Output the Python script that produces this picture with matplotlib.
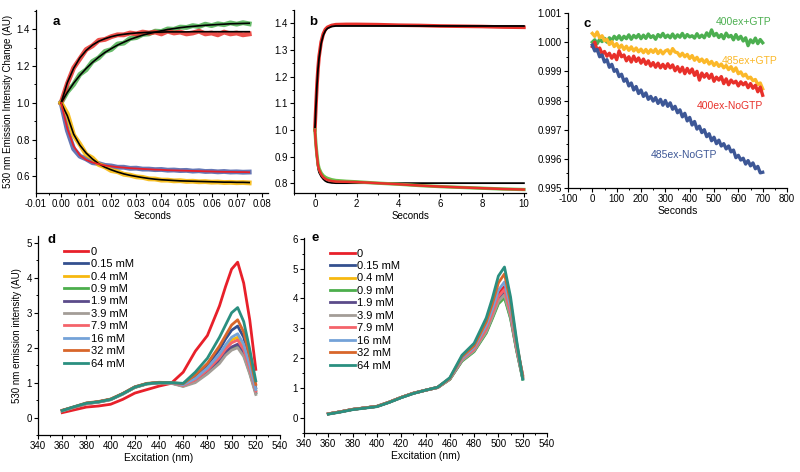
import numpy as np
import matplotlib
matplotlib.use('Agg')
import matplotlib.pyplot as plt
from matplotlib.ticker import MultipleLocator, FormatStrFormatter

plt.rcParams['font.family'] = ['Liberation Sans', 'DejaVu Sans']
plt.rcParams['axes.unicode_minus'] = False

# ---------------- panel a: fast kinetics (seconds) ----------------
t_a = [0.0, 0.0025, 0.005, 0.0075, 0.01, 0.0125, 0.015, 0.0175, 0.02, 0.0225,
       0.025, 0.0275, 0.03, 0.0325, 0.035, 0.0375, 0.04, 0.0425, 0.045, 0.0475,
       0.05, 0.0525, 0.055, 0.0575, 0.06, 0.0625, 0.065, 0.0675, 0.07, 0.0725, 0.075]
a_red_data = [1.00, 1.105, 1.19, 1.24, 1.29, 1.31, 1.34, 1.345, 1.36, 1.37, 1.37, 1.38,
              1.375, 1.385, 1.38, 1.385, 1.375, 1.39, 1.38, 1.385, 1.375, 1.38, 1.39,
              1.375, 1.38, 1.37, 1.385, 1.375, 1.38, 1.37, 1.375]
a_red_fit = [1.000, 1.110, 1.188, 1.245, 1.285, 1.314, 1.335, 1.349, 1.360, 1.368, 1.373,
             1.377, 1.380, 1.382, 1.384, 1.384, 1.385, 1.386, 1.386, 1.386, 1.386, 1.387,
             1.387, 1.387, 1.387, 1.387, 1.387, 1.387, 1.387, 1.387, 1.387]
a_green_data = [1.00, 1.06, 1.10, 1.155, 1.18, 1.225, 1.245, 1.28, 1.29, 1.32, 1.325, 1.35,
                1.355, 1.372, 1.375, 1.39, 1.388, 1.402, 1.40, 1.412, 1.41, 1.42, 1.415,
                1.428, 1.42, 1.43, 1.425, 1.435, 1.428, 1.436, 1.43]
a_green_fit = [1.000, 1.057, 1.107, 1.150, 1.187, 1.220, 1.249, 1.274, 1.295, 1.314, 1.330,
               1.345, 1.357, 1.368, 1.377, 1.385, 1.392, 1.399, 1.404, 1.409, 1.413, 1.416,
               1.419, 1.422, 1.424, 1.426, 1.428, 1.430, 1.431, 1.432, 1.433]
a_blue_data = [1.00, 0.85, 0.75, 0.71, 0.695, 0.675, 0.67, 0.66, 0.657, 0.65, 0.65, 0.644,
               0.645, 0.64, 0.64, 0.637, 0.638, 0.634, 0.635, 0.632, 0.633, 0.629, 0.631,
               0.627, 0.628, 0.625, 0.627, 0.624, 0.625, 0.623, 0.624]
a_blue_fit = [1.00, 0.86, 0.765, 0.715, 0.69, 0.676, 0.667, 0.660, 0.655, 0.651, 0.648,
              0.645, 0.643, 0.641, 0.639, 0.637, 0.636, 0.634, 0.633, 0.632, 0.631, 0.630,
              0.629, 0.628, 0.627, 0.626, 0.625, 0.625, 0.624, 0.624, 0.623]
a_yellow_data = [1.00, 0.94, 0.825, 0.775, 0.72, 0.70, 0.665, 0.652, 0.632, 0.626, 0.612,
                 0.607, 0.598, 0.595, 0.587, 0.586, 0.580, 0.580, 0.576, 0.577, 0.573,
                 0.574, 0.571, 0.572, 0.569, 0.570, 0.567, 0.568, 0.566, 0.567, 0.565]
a_yellow_fit = [1.0, 0.93, 0.83, 0.77, 0.727, 0.695, 0.669, 0.650, 0.636, 0.624, 0.614,
                0.606, 0.600, 0.594, 0.589, 0.585, 0.582, 0.580, 0.578, 0.576, 0.575,
                0.574, 0.573, 0.572, 0.571, 0.570, 0.569, 0.569, 0.568, 0.568, 0.567]

# ---------------- panel b: slow kinetics ----------------
t_b = [0, 0.05, 0.1, 0.15, 0.2, 0.3, 0.4, 0.5, 0.6, 0.8, 1.0, 1.5, 2, 3, 4, 5, 6, 7, 8, 9, 10]
b_rise_data = [1.00, 1.09, 1.17, 1.23, 1.275, 1.33, 1.36, 1.377, 1.385, 1.392, 1.395, 1.396,
               1.396, 1.395, 1.393, 1.392, 1.390, 1.389, 1.388, 1.386, 1.385]
b_rise_fit = [1.00, 1.09, 1.17, 1.23, 1.27, 1.325, 1.355, 1.372, 1.381, 1.388, 1.390, 1.390,
              1.390, 1.390, 1.390, 1.390, 1.390, 1.390, 1.390, 1.390, 1.390]
b_fall_green = [1.00, 0.945, 0.905, 0.872, 0.855, 0.838, 0.828, 0.822, 0.818, 0.813, 0.810,
                0.807, 0.805, 0.800, 0.796, 0.791, 0.787, 0.784, 0.781, 0.778, 0.776]
b_fall_red = [1.00, 0.94, 0.90, 0.865, 0.85, 0.833, 0.822, 0.816, 0.812, 0.808, 0.806,
              0.805, 0.804, 0.800, 0.796, 0.791, 0.787, 0.784, 0.781, 0.778, 0.776]
b_fall_fit = [1.00, 0.935, 0.89, 0.855, 0.84, 0.825, 0.815, 0.808, 0.804, 0.801, 0.800,
              0.800, 0.800, 0.800, 0.800, 0.800, 0.800, 0.800, 0.800, 0.800, 0.800]

# ---------------- panel c: drift, deviation from 1 in units of 1e-4 ----------------
t_c = list(range(0, 701, 10))
c_green_dev = [0.0, 0.8, -0.5, 1.0, 0.2, 1.3, 0.0, 1.5, 0.6, 2.0, 1.0, 2.2, 0.8, 2.0, 1.2,
               2.5, 1.0, 2.3, 1.5, 2.6, 1.2, 2.4, 1.3, 2.8, 1.6, 2.2, 1.0, 2.6, 1.8, 3.0,
               1.6, 2.4, 1.5, 2.8, 1.4, 2.5, 1.7, 3.0, 1.5, 2.6, 1.8, 2.2, 1.4, 2.9, 1.6,
               2.4, 1.5, 3.2, 2.0, 4.2, 2.2, 3.0, 1.6, 2.6, 1.2, 3.1, 1.8, 2.3, 0.8, 2.6,
               1.0, 2.0, 0.4, 1.5, -1.2, 0.8, -0.2, 1.4, -0.5, 0.9, -0.2]
c_yellow_dev = [3.0, 2.0, 3.5, 1.5, 2.2, 0.5, 1.0, -0.8, 0.2, -1.5, -0.5, -2.0, -1.0, -2.5,
                -1.4, -2.8, -1.6, -3.0, -2.0, -3.3, -2.4, -3.6, -2.5, -3.8, -2.6, -3.5,
                -2.4, -3.9, -2.8, -4.0, -3.0, -2.6, -4.0, -2.2, -3.4, -3.6, -4.8, -3.8,
                -5.0, -4.2, -5.6, -4.6, -6.2, -5.2, -6.6, -5.8, -7.0, -6.0, -7.5, -6.6,
                -8.0, -7.0, -8.3, -7.5, -8.8, -8.0, -9.4, -8.4, -10.0, -8.8, -10.8,
                -10.2, -11.6, -11.0, -12.4, -12.0, -13.2, -12.8, -14.5, -14.0, -16.0]
c_red_dev = [-1.5, 0.0, -3.0, -2.0, -4.0, -3.2, -4.8, -3.8, -5.5, -4.2, -6.0, -3.0, -5.0,
             -4.4, -6.4, -5.0, -6.8, -4.8, -6.6, -5.4, -7.2, -5.8, -7.6, -6.4, -8.2, -7.0,
             -8.6, -7.2, -8.8, -7.6, -9.0, -7.4, -8.8, -7.8, -9.8, -8.4, -10.2, -8.6,
             -10.8, -9.0, -10.6, -9.2, -11.4, -10.0, -13.0, -10.6, -12.0, -10.8, -12.4,
             -11.0, -13.4, -12.0, -13.0, -11.8, -14.2, -12.6, -14.6, -13.0, -14.0, -13.4,
             -15.0, -13.6, -14.6, -13.8, -15.6, -14.2, -15.8, -14.8, -17.0, -15.4, -18.2]
c_blue_dev = [-1.0, -3.0, -2.5, -5.0, -4.4, -6.8, -6.0, -8.6, -7.6, -10.0, -9.4, -11.8,
              -11.0, -13.4, -12.6, -15.0, -14.0, -16.4, -15.2, -17.6, -16.4, -18.6, -17.4,
              -19.6, -18.6, -20.2, -19.0, -21.0, -19.6, -21.6, -20.0, -22.0, -20.8, -23.0,
              -22.0, -24.2, -23.2, -25.6, -24.4, -27.0, -25.8, -28.4, -27.2, -29.8, -28.8,
              -31.0, -30.0, -32.4, -31.4, -33.8, -32.6, -34.8, -33.6, -35.6, -34.8, -36.6,
              -35.6, -37.6, -37.0, -39.6, -38.8, -40.4, -39.8, -41.8, -40.6, -42.4, -41.4,
              -43.4, -42.6, -44.8, -44.6]

# ---------------- panels d / e: excitation spectra ----------------
wl = [360, 370, 380, 390, 400, 410, 420, 430, 440, 450,
      460, 470, 480, 490, 495, 500, 505, 510, 515, 520]
conc_labels = ['0', '0.15 mM', '0.4 mM', '0.9 mM', '1.9 mM', '3.9 mM',
               '7.9 mM', '16 mM', '32 mM', '64 mM']
conc_colors = ['#e8202a', '#34508f', '#f7b80f', '#4cae4c', '#5b4b8a', '#a39d97',
               '#f4636a', '#74a2d8', '#d8662a', '#2a8f80']

d_spectra = [
    [0.14, 0.22, 0.30, 0.33, 0.38, 0.52, 0.70, 0.80, 0.90, 0.98, 1.30, 1.90, 2.35, 3.20, 3.75, 4.25, 4.45, 3.85, 2.80, 1.38],
    [0.20, 0.30, 0.41, 0.45, 0.52, 0.68, 0.87, 0.97, 1.00, 1.00, 0.95, 1.18, 1.50, 1.95, 2.25, 2.50, 2.62, 2.30, 1.65, 0.85],
    [0.20, 0.30, 0.40, 0.45, 0.52, 0.68, 0.87, 0.97, 1.00, 1.00, 0.93, 1.10, 1.40, 1.78, 2.02, 2.22, 2.30, 2.02, 1.45, 0.78],
    [0.19, 0.30, 0.40, 0.44, 0.51, 0.67, 0.86, 0.96, 0.99, 0.99, 0.90, 1.03, 1.28, 1.60, 1.83, 1.98, 2.05, 1.80, 1.28, 0.70],
    [0.20, 0.30, 0.40, 0.45, 0.52, 0.68, 0.87, 0.97, 1.00, 0.99, 0.91, 1.05, 1.32, 1.65, 1.88, 2.02, 2.10, 1.85, 1.32, 0.72],
    [0.19, 0.29, 0.39, 0.44, 0.51, 0.67, 0.86, 0.96, 0.99, 0.98, 0.89, 1.00, 1.25, 1.55, 1.78, 1.93, 2.00, 1.75, 1.25, 0.66],
    [0.20, 0.30, 0.40, 0.45, 0.52, 0.68, 0.87, 0.97, 1.00, 1.00, 0.92, 1.08, 1.36, 1.72, 1.96, 2.14, 2.22, 1.95, 1.40, 0.76],
    [0.20, 0.31, 0.41, 0.45, 0.52, 0.68, 0.88, 0.97, 1.00, 1.00, 0.94, 1.12, 1.42, 1.82, 2.08, 2.30, 2.40, 2.10, 1.50, 0.80],
    [0.21, 0.31, 0.42, 0.46, 0.53, 0.69, 0.88, 0.98, 1.01, 1.00, 0.97, 1.22, 1.55, 2.05, 2.35, 2.65, 2.80, 2.45, 1.75, 0.95],
    [0.20, 0.31, 0.41, 0.45, 0.52, 0.68, 0.87, 0.97, 1.00, 1.00, 0.98, 1.30, 1.70, 2.30, 2.65, 3.00, 3.15, 2.75, 1.95, 1.05],
]

e_spectra = [
    [0.14, 0.21, 0.29, 0.34, 0.39, 0.53, 0.69, 0.83, 0.93, 1.03, 1.32, 1.98, 2.33, 3.03, 3.56, 4.15, 4.40, 3.60, 2.40, 1.45],
    [0.14, 0.21, 0.29, 0.34, 0.39, 0.53, 0.69, 0.83, 0.93, 1.02, 1.30, 1.92, 2.24, 2.87, 3.36, 3.87, 4.08, 3.36, 2.27, 1.32],
    [0.14, 0.21, 0.29, 0.34, 0.39, 0.53, 0.69, 0.83, 0.93, 1.02, 1.30, 1.94, 2.27, 2.92, 3.42, 3.95, 4.18, 3.43, 2.31, 1.36],
    [0.14, 0.21, 0.29, 0.34, 0.39, 0.53, 0.69, 0.83, 0.93, 1.02, 1.29, 1.90, 2.22, 2.84, 3.32, 3.82, 4.02, 3.32, 2.25, 1.30],
    [0.14, 0.21, 0.29, 0.34, 0.39, 0.53, 0.69, 0.83, 0.93, 1.02, 1.31, 1.95, 2.28, 2.94, 3.45, 3.99, 4.22, 3.46, 2.33, 1.35],
    [0.14, 0.21, 0.29, 0.34, 0.39, 0.53, 0.69, 0.83, 0.93, 1.02, 1.30, 1.93, 2.25, 2.89, 3.38, 3.90, 4.12, 3.39, 2.29, 1.33],
    [0.14, 0.21, 0.29, 0.34, 0.39, 0.53, 0.69, 0.83, 0.93, 1.02, 1.31, 1.97, 2.30, 2.98, 3.50, 4.06, 4.30, 3.52, 2.36, 1.38],
    [0.14, 0.21, 0.29, 0.34, 0.39, 0.53, 0.69, 0.83, 0.93, 1.03, 1.32, 2.00, 2.36, 3.10, 3.65, 4.28, 4.55, 3.70, 2.45, 1.42],
    [0.14, 0.21, 0.29, 0.34, 0.39, 0.53, 0.69, 0.83, 0.93, 1.03, 1.33, 2.05, 2.42, 3.22, 3.82, 4.52, 4.82, 3.88, 2.52, 1.40],
    [0.13, 0.20, 0.28, 0.33, 0.38, 0.52, 0.68, 0.82, 0.93, 1.03, 1.35, 2.10, 2.50, 3.35, 4.00, 4.75, 5.05, 4.05, 2.60, 1.30],
]


def style_axes(ax, xmaj, xmin, ymaj, ymin):
    ax.spines['top'].set_visible(False)
    ax.spines['right'].set_visible(False)
    for s in ('left', 'bottom'):
        ax.spines[s].set_linewidth(0.9)
    ax.xaxis.set_major_locator(MultipleLocator(xmaj))
    ax.xaxis.set_minor_locator(MultipleLocator(xmin))
    ax.yaxis.set_major_locator(MultipleLocator(ymaj))
    ax.yaxis.set_minor_locator(MultipleLocator(ymin))
    ax.tick_params(which='major', direction='out', length=3, width=0.8,
                   labelsize=7, pad=1.5)
    ax.tick_params(which='minor', direction='out', length=1.6, width=0.7)


fig = plt.figure(figsize=(8, 4.72), dpi=100)
W, H = 800, 472
ax_a = fig.add_axes([36 / W, 1 - 193 / H, 232 / W, 183 / H])
ax_b = fig.add_axes([294 / W, 1 - 193 / H, 232 / W, 183 / H])
ax_c = fig.add_axes([568 / W, 1 - 188 / H, 219 / W, 175 / H])
ax_d = fig.add_axes([38 / W, 1 - 435 / H, 242 / W, 199 / H])
ax_e = fig.add_axes([304 / W, 1 - 433 / H, 243 / W, 195 / H])

# ---- a ----
ax_a.plot(t_a, a_green_data, color='#4caf50', lw=3.5, alpha=0.85)
ax_a.plot(t_a, a_red_data, color='#e8302a', lw=3.5, alpha=0.85)
ax_a.plot(t_a, a_blue_data, color='#4a5fa8', lw=3.5, alpha=0.85)
ax_a.plot(t_a, a_yellow_data, color='#f7b500', lw=3.5, alpha=0.85)
ax_a.plot(t_a, a_red_fit, color='black', lw=1.2)
ax_a.plot(t_a, a_green_fit, color='black', lw=1.2)
ax_a.plot(t_a, a_yellow_fit, color='black', lw=1.2)
ax_a.plot(t_a, a_blue_fit, color='#e8202a', lw=1.3)
ax_a.set_xlim(-0.01, 0.0825)
ax_a.set_ylim(0.51, 1.505)
style_axes(ax_a, 0.01, 0.005, 0.2, 0.1)
ax_a.xaxis.set_major_formatter(FormatStrFormatter('%.2f'))
ax_a.yaxis.set_major_formatter(FormatStrFormatter('%.1f'))
ax_a.set_xlabel('Seconds', fontsize=7, labelpad=1)
ax_a.set_ylabel('530 nm Emission Intensity Change (AU)', fontsize=7, labelpad=2)
ax_a.text(0.07, 0.965, 'a', transform=ax_a.transAxes, fontsize=9.5,
          fontweight='bold', va='top')

# ---- b ----
ax_b.plot(t_b, b_rise_data, color='#e8302a', lw=2.6)
ax_b.plot(t_b, b_rise_fit, color='black', lw=1.3)
ax_b.plot(t_b, b_fall_fit, color='black', lw=1.3)
ax_b.plot(t_b, b_fall_green, color='#6cc04a', lw=2.4)
ax_b.plot(t_b, b_fall_red, color='#e8302a', lw=1.8)
ax_b.set_xlim(-1, 10.1)
ax_b.set_ylim(0.763, 1.45)
style_axes(ax_b, 2, 1, 0.1, 0.05)
ax_b.yaxis.set_major_formatter(FormatStrFormatter('%.1f'))
ax_b.set_xlabel('Seconds', fontsize=7, labelpad=1)
ax_b.text(0.065, 0.965, 'b', transform=ax_b.transAxes, fontsize=9.5,
          fontweight='bold', va='top')

# ---- c ----
c_series = [(c_green_dev, '#4caf50'), (c_yellow_dev, '#fbb829'),
            (c_red_dev, '#e8302a'), (c_blue_dev, '#3d5796')]
for dev, col in c_series:
    ax_c.plot(t_c, 1 + np.array(dev) * 1e-4, color=col, lw=2.4)
ax_c.set_xlim(-100, 800)
ax_c.set_ylim(0.995, 1.001)
style_axes(ax_c, 100, 50, 0.001, 0.0005)
ax_c.yaxis.set_major_formatter(FormatStrFormatter('%.3f'))
ax_c.set_xlabel('Seconds', fontsize=7.5, labelpad=1)
ax_c.text(0.07, 0.97, 'c', transform=ax_c.transAxes, fontsize=9.5,
          fontweight='bold', va='top')
ax_c.text(620, 1.00070, '400ex+GTP', color='#4caf50', fontsize=7.5, ha='center', va='center')
ax_c.text(648, 0.99934, '485ex+GTP', color='#fbb829', fontsize=7.5, ha='center', va='center')
ax_c.text(565, 0.99782, '400ex-NoGTP', color='#e8302a', fontsize=7.5, ha='center', va='center')
ax_c.text(375, 0.99614, '485ex-NoGTP', color='#3d5796', fontsize=7.5, ha='center', va='center')

# ---- d / e ----
for ax, spectra in ((ax_d, d_spectra), (ax_e, e_spectra)):
    for ys, lab, col in zip(spectra, conc_labels, conc_colors):
        ax.plot(wl, ys, color=col, lw=2.0, label=lab)
    ax.set_xlim(340, 540)
    style_axes(ax, 20, 10, 1, 0.5)
    ax.set_xlabel('Excitation (nm)', fontsize=7.5, labelpad=1)
    ax.legend(loc='upper left', frameon=False, fontsize=8, handlelength=2.2,
              handletextpad=0.2, labelspacing=0.22, borderaxespad=0.2,
              bbox_to_anchor=(0.08, 0.98))

ax_d.set_ylim(-0.5, 5.2)
ax_e.set_ylim(-0.5, 6.02)
ax_d.set_ylabel('530 nm emission intensity (AU)', fontsize=7, labelpad=3)
ax_d.text(0.04, 1.01, 'd', transform=ax_d.transAxes, fontsize=9.5,
          fontweight='bold', va='top')
ax_e.text(0.03, 1.03, 'e', transform=ax_e.transAxes, fontsize=9.5,
          fontweight='bold', va='top')

fig.savefig('out.png', dpi=100, facecolor='white')
